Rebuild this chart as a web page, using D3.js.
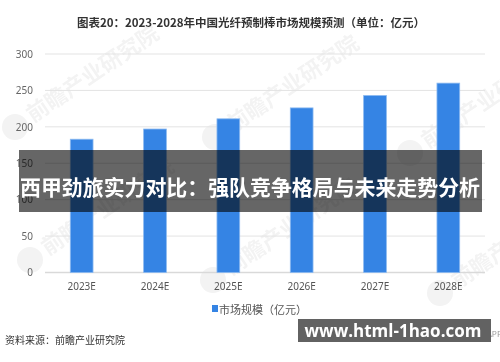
<!DOCTYPE html>
<html><head><meta charset="utf-8">
<script src="https://cdn.jsdelivr.net/npm/d3@7/dist/d3.min.js"></script>
<style>html,body{margin:0;padding:0;background:#fff;}svg{display:block;font-family:"Noto Sans CJK SC","Noto Sans",sans-serif;}</style>
</head><body>
<script>
const title = "图表20：2023-2028年中国光纤预制棒市场规模预测（单位：亿元）";
const categories = ["2023E","2024E","2025E","2026E","2027E","2028E"];
const values = [183, 197, 211, 226, 243, 260];
const yTicks = [0, 50, 100, 150, 200, 250, 300];
const seriesName = "市场规模（亿元）";
const source = "资料来源：前瞻产业研究院";
const bannerText = "西甲劲旅实力对比：强队竞争格局与未来走势分析";
const siteText = "www.html-1hao.com";
const watermarkText = "前瞻产业研究院";

const W = 500, H = 362;
const svg = d3.select("body").append("svg").attr("width", W).attr("height", H);

const x = d3.scaleBand().domain(categories).range([45, 485]).paddingInner(0.69).paddingOuter(0.345);
const y = d3.scaleLinear().domain([0, 300]).range([272.5, 54]);

// watermarks
const wmPos = [[15,127],[215,137],[410,153],[30,260],[213,280],[440,293]];
const wm = svg.append("g").attr("opacity", 0.05);
wmPos.forEach(([lx, ly]) => {
  wm.append("circle").attr("cx", lx).attr("cy", ly).attr("r", 13).attr("fill", "#000");
  wm.append("text").attr("transform", `translate(${lx+18},${ly-4}) rotate(-34)`)
    .attr("font-size", 22).attr("font-weight", "bold").attr("fill", "#000").text(watermarkText);
});

// title
svg.append("text").attr("x", 251).attr("y", 22).attr("text-anchor", "middle")
  .attr("dominant-baseline", "central").attr("font-size", 11.5).attr("font-weight", "bold")
  .attr("fill", "#333").text(title);

// grid
svg.append("g").selectAll("line").data(yTicks).join("line")
  .attr("x1", 45).attr("x2", 485).attr("y1", d => y(d)).attr("y2", d => y(d))
  .attr("stroke", d => d === 0 ? "#d9d9d9" : "#e3e3e3").attr("stroke-width", d => d === 0 ? 1.5 : 1);

// y axis
const yAxis = svg.append("g").attr("transform", "translate(33,0)")
  .call(d3.axisLeft(y).tickValues(yTicks).tickSize(0).tickPadding(0));
yAxis.select(".domain").remove();
yAxis.selectAll("text").attr("font-size", 10).attr("fill", "#666").attr("font-family", "\"Noto Sans\",sans-serif");

// x axis
const xAxis = svg.append("g").attr("transform", `translate(0,${y(0)})`)
  .call(d3.axisBottom(x).tickSize(0).tickPadding(10));
xAxis.select(".domain").remove();
xAxis.selectAll("text").attr("font-size", 10).attr("fill", "#555").attr("font-family", "\"Noto Sans\",sans-serif");

// bars
svg.append("g").selectAll("rect").data(values).join("rect")
  .attr("x", (d, i) => x(categories[i])).attr("width", x.bandwidth())
  .attr("y", d => y(d)).attr("height", d => y(0) - y(d))
  .attr("fill", "#3584e4").attr("stroke", "#8cbaf0").attr("stroke-width", 0.8);

// legend
svg.append("rect").attr("x", 212).attr("y", 305).attr("width", 6).attr("height", 7).attr("fill", "#3584e4");
svg.append("text").attr("x", 219).attr("y", 309).attr("dominant-baseline", "central")
  .attr("font-size", 11).attr("fill", "#555").text(seriesName);

// source
svg.append("text").attr("x", 5).attr("y", 339).attr("dominant-baseline", "central")
  .attr("font-size", 10).attr("fill", "#333").text(source);

// banner
svg.append("rect").attr("x", 19).attr("y", 150).attr("width", 463).attr("height", 62)
  .attr("fill", "#000").attr("opacity", 0.6);
svg.append("text").attr("x", 250).attr("y", 186).attr("text-anchor", "middle")
  .attr("dominant-baseline", "central").attr("font-size", 21).attr("font-weight", "bold")
  .attr("fill", "#fff").attr("textLength", 460).attr("lengthAdjust", "spacingAndGlyphs").text(bannerText);

// site badge
svg.append("text").attr("x", 487).attr("y", 337).attr("font-size", 8).attr("fill", "#999").text("APP");
svg.append("rect").attr("x", 298).attr("y", 319).attr("width", 193).attr("height", 23).attr("fill", "#626262");
svg.append("text").attr("x", 393).attr("y", 330).attr("text-anchor", "middle")
  .attr("dominant-baseline", "central").attr("font-size", 17).attr("font-weight", "bold")
  .attr("fill", "#fff").attr("font-family", "\"Open Sans\",\"DejaVu Sans\",sans-serif").text(siteText);
</script>
</body></html>
